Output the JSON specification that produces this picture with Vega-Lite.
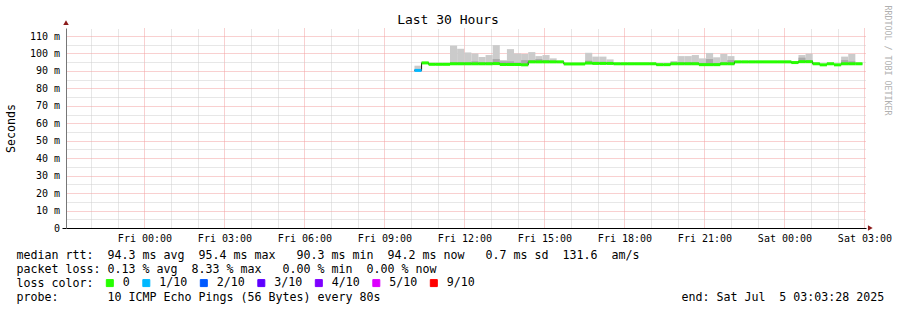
{
  "$schema": "https://vega.github.io/schema/vega-lite/v6.json",
  "width": 800,
  "height": 200,
  "autosize": {"type": "none"},
  "padding": {"left": 66, "top": 28, "right": 31, "bottom": 82},
  "background": "#ffffff",
  "config": {"view": {"stroke": null}, "font": "DejaVu Sans Mono"},
  "title": {"text": "Last 30 Hours", "font": "DejaVu Sans Mono", "fontSize": 13, "fontWeight": "normal", "color": "#000000", "anchor": "middle", "frame": "group", "dx": -18, "dy": 36, "offset": 4, "baseline": "alphabetic"},
  "data": {"values": [
    {"t0": 10.125, "t1": 10.392, "med": 90.3, "lo": 89.8, "hi": 93.0, "ilo": 90.0, "ihi": 90.8, "loss": "1/10"},
    {"t0": 10.392, "t1": 10.658, "med": 94.6, "lo": 94.0, "hi": 95.2, "ilo": 94.3, "ihi": 94.9, "loss": "0"},
    {"t0": 10.658, "t1": 10.925, "med": 93.8, "lo": 93.2, "hi": 94.4, "ilo": 93.5, "ihi": 94.1, "loss": "0"},
    {"t0": 10.925, "t1": 11.192, "med": 93.8, "lo": 93.2, "hi": 94.4, "ilo": 93.5, "ihi": 94.1, "loss": "0"},
    {"t0": 11.192, "t1": 11.458, "med": 93.8, "lo": 93.2, "hi": 94.4, "ilo": 93.5, "ihi": 94.1, "loss": "0"},
    {"t0": 11.458, "t1": 11.725, "med": 94.1, "lo": 93.5, "hi": 104.5, "ilo": 93.8, "ihi": 95.1, "loss": "0"},
    {"t0": 11.725, "t1": 11.992, "med": 94.1, "lo": 93.5, "hi": 102.7, "ilo": 93.8, "ihi": 95.1, "loss": "0"},
    {"t0": 11.992, "t1": 12.258, "med": 94.1, "lo": 93.5, "hi": 100.6, "ilo": 93.8, "ihi": 95.1, "loss": "0"},
    {"t0": 12.258, "t1": 12.525, "med": 94.1, "lo": 93.5, "hi": 100.0, "ilo": 93.8, "ihi": 95.5, "loss": "0"},
    {"t0": 12.525, "t1": 12.792, "med": 94.1, "lo": 93.5, "hi": 98.0, "ilo": 93.8, "ihi": 95.1, "loss": "0"},
    {"t0": 12.792, "t1": 13.058, "med": 94.1, "lo": 93.5, "hi": 99.1, "ilo": 93.8, "ihi": 95.1, "loss": "0"},
    {"t0": 13.058, "t1": 13.325, "med": 94.2, "lo": 93.6, "hi": 104.8, "ilo": 93.9, "ihi": 96.8, "loss": "0"},
    {"t0": 13.325, "t1": 13.592, "med": 93.7, "lo": 93.1, "hi": 96.2, "ilo": 93.4, "ihi": 95.5, "loss": "0"},
    {"t0": 13.592, "t1": 13.858, "med": 93.7, "lo": 93.1, "hi": 102.5, "ilo": 93.4, "ihi": 95.5, "loss": "0"},
    {"t0": 13.858, "t1": 14.125, "med": 93.7, "lo": 93.1, "hi": 100.0, "ilo": 93.4, "ihi": 94.8, "loss": "0"},
    {"t0": 14.125, "t1": 14.392, "med": 93.5, "lo": 92.9, "hi": 99.7, "ilo": 93.2, "ihi": 96.2, "loss": "0"},
    {"t0": 14.392, "t1": 14.658, "med": 95.2, "lo": 94.6, "hi": 100.8, "ilo": 94.9, "ihi": 96.2, "loss": "0"},
    {"t0": 14.658, "t1": 14.925, "med": 95.2, "lo": 94.6, "hi": 98.5, "ilo": 94.9, "ihi": 96.8, "loss": "0"},
    {"t0": 14.925, "t1": 15.192, "med": 95.2, "lo": 94.6, "hi": 99.1, "ilo": 94.9, "ihi": 96.2, "loss": "0"},
    {"t0": 15.192, "t1": 15.458, "med": 95.2, "lo": 94.6, "hi": 97.2, "ilo": 94.9, "ihi": 95.8, "loss": "0"},
    {"t0": 15.458, "t1": 15.725, "med": 95.2, "lo": 94.6, "hi": 95.8, "ilo": 94.9, "ihi": 95.5, "loss": "0"},
    {"t0": 15.725, "t1": 15.992, "med": 94.0, "lo": 93.4, "hi": 94.6, "ilo": 93.7, "ihi": 94.3, "loss": "0"},
    {"t0": 15.992, "t1": 16.258, "med": 94.0, "lo": 93.4, "hi": 94.6, "ilo": 93.7, "ihi": 94.3, "loss": "0"},
    {"t0": 16.258, "t1": 16.525, "med": 94.0, "lo": 93.4, "hi": 94.6, "ilo": 93.7, "ihi": 94.3, "loss": "0"},
    {"t0": 16.525, "t1": 16.792, "med": 94.5, "lo": 93.9, "hi": 100.4, "ilo": 94.2, "ihi": 95.9, "loss": "0"},
    {"t0": 16.792, "t1": 17.058, "med": 94.3, "lo": 93.7, "hi": 98.2, "ilo": 94.0, "ihi": 95.2, "loss": "0"},
    {"t0": 17.058, "t1": 17.325, "med": 94.3, "lo": 93.7, "hi": 98.2, "ilo": 94.0, "ihi": 95.2, "loss": "0"},
    {"t0": 17.325, "t1": 17.592, "med": 94.3, "lo": 93.7, "hi": 96.6, "ilo": 94.0, "ihi": 95.0, "loss": "0"},
    {"t0": 17.592, "t1": 17.858, "med": 94.1, "lo": 93.5, "hi": 94.7, "ilo": 93.8, "ihi": 94.4, "loss": "0"},
    {"t0": 17.858, "t1": 18.125, "med": 94.1, "lo": 93.5, "hi": 94.7, "ilo": 93.8, "ihi": 94.4, "loss": "0"},
    {"t0": 18.125, "t1": 18.392, "med": 94.1, "lo": 93.5, "hi": 94.7, "ilo": 93.8, "ihi": 94.4, "loss": "0"},
    {"t0": 18.392, "t1": 18.658, "med": 94.1, "lo": 93.5, "hi": 94.7, "ilo": 93.8, "ihi": 94.4, "loss": "0"},
    {"t0": 18.658, "t1": 18.925, "med": 94.1, "lo": 93.5, "hi": 94.7, "ilo": 93.8, "ihi": 94.4, "loss": "0"},
    {"t0": 18.925, "t1": 19.192, "med": 94.1, "lo": 93.5, "hi": 94.7, "ilo": 93.8, "ihi": 94.4, "loss": "0"},
    {"t0": 19.192, "t1": 19.458, "med": 93.6, "lo": 93.0, "hi": 94.2, "ilo": 93.3, "ihi": 93.9, "loss": "0"},
    {"t0": 19.458, "t1": 19.725, "med": 93.6, "lo": 93.0, "hi": 94.2, "ilo": 93.3, "ihi": 93.9, "loss": "0"},
    {"t0": 19.725, "t1": 19.992, "med": 94.1, "lo": 93.5, "hi": 95.7, "ilo": 93.8, "ihi": 94.8, "loss": "0"},
    {"t0": 19.992, "t1": 20.258, "med": 94.1, "lo": 93.5, "hi": 98.5, "ilo": 93.8, "ihi": 95.0, "loss": "0"},
    {"t0": 20.258, "t1": 20.525, "med": 94.1, "lo": 93.5, "hi": 98.5, "ilo": 93.8, "ihi": 95.0, "loss": "0"},
    {"t0": 20.525, "t1": 20.792, "med": 94.1, "lo": 93.5, "hi": 99.1, "ilo": 93.8, "ihi": 95.0, "loss": "0"},
    {"t0": 20.792, "t1": 21.058, "med": 93.6, "lo": 93.0, "hi": 97.2, "ilo": 93.3, "ihi": 94.6, "loss": "0"},
    {"t0": 21.058, "t1": 21.325, "med": 93.6, "lo": 93.0, "hi": 100.3, "ilo": 93.3, "ihi": 96.8, "loss": "0"},
    {"t0": 21.325, "t1": 21.592, "med": 93.6, "lo": 93.0, "hi": 97.8, "ilo": 93.3, "ihi": 94.6, "loss": "0"},
    {"t0": 21.592, "t1": 21.858, "med": 94.1, "lo": 93.5, "hi": 99.7, "ilo": 93.8, "ihi": 95.0, "loss": "0"},
    {"t0": 21.858, "t1": 22.125, "med": 94.1, "lo": 93.5, "hi": 98.5, "ilo": 93.8, "ihi": 96.2, "loss": "0"},
    {"t0": 22.125, "t1": 22.392, "med": 95.2, "lo": 94.6, "hi": 95.8, "ilo": 94.9, "ihi": 95.5, "loss": "0"},
    {"t0": 22.392, "t1": 22.658, "med": 95.2, "lo": 94.6, "hi": 95.8, "ilo": 94.9, "ihi": 95.5, "loss": "0"},
    {"t0": 22.658, "t1": 22.925, "med": 95.2, "lo": 94.6, "hi": 95.8, "ilo": 94.9, "ihi": 95.5, "loss": "0"},
    {"t0": 22.925, "t1": 23.192, "med": 95.2, "lo": 94.6, "hi": 95.8, "ilo": 94.9, "ihi": 95.5, "loss": "0"},
    {"t0": 23.192, "t1": 23.458, "med": 95.2, "lo": 94.6, "hi": 95.8, "ilo": 94.9, "ihi": 95.5, "loss": "0"},
    {"t0": 23.458, "t1": 23.725, "med": 95.2, "lo": 94.6, "hi": 95.8, "ilo": 94.9, "ihi": 95.5, "loss": "0"},
    {"t0": 23.725, "t1": 23.992, "med": 95.2, "lo": 94.6, "hi": 95.8, "ilo": 94.9, "ihi": 95.5, "loss": "0"},
    {"t0": 23.992, "t1": 24.258, "med": 95.2, "lo": 94.6, "hi": 95.8, "ilo": 94.9, "ihi": 95.5, "loss": "0"},
    {"t0": 24.258, "t1": 24.525, "med": 94.8, "lo": 94.2, "hi": 95.4, "ilo": 94.5, "ihi": 95.1, "loss": "0"},
    {"t0": 24.525, "t1": 24.792, "med": 95.3, "lo": 94.7, "hi": 99.1, "ilo": 95.0, "ihi": 97.6, "loss": "0"},
    {"t0": 24.792, "t1": 25.058, "med": 95.3, "lo": 94.7, "hi": 99.9, "ilo": 95.0, "ihi": 96.2, "loss": "0"},
    {"t0": 25.058, "t1": 25.325, "med": 94.1, "lo": 93.5, "hi": 94.7, "ilo": 93.8, "ihi": 94.4, "loss": "0"},
    {"t0": 25.325, "t1": 25.592, "med": 93.5, "lo": 92.9, "hi": 94.1, "ilo": 93.2, "ihi": 93.8, "loss": "0"},
    {"t0": 25.592, "t1": 25.858, "med": 94.1, "lo": 93.5, "hi": 94.7, "ilo": 93.8, "ihi": 94.4, "loss": "0"},
    {"t0": 25.858, "t1": 26.125, "med": 93.5, "lo": 92.9, "hi": 94.1, "ilo": 93.2, "ihi": 93.8, "loss": "0"},
    {"t0": 26.125, "t1": 26.392, "med": 94.1, "lo": 93.5, "hi": 98.2, "ilo": 93.8, "ihi": 96.2, "loss": "0"},
    {"t0": 26.392, "t1": 26.658, "med": 94.1, "lo": 93.5, "hi": 99.7, "ilo": 93.8, "ihi": 95.5, "loss": "0"},
    {"t0": 26.658, "t1": 26.925, "med": 94.1, "lo": 93.5, "hi": 94.7, "ilo": 93.8, "ihi": 94.4, "loss": "0"}
  ]},
  "resolve": {"axis": {"x": "independent", "y": "independent"}},
  "layer": [
    {
      "mark": {"type": "rect", "color": "#cbcbcb"},
      "encoding": {
        "x": {"field": "t0", "type": "quantitative",
          "scale": {"domain": [-2.9422, 27.0578], "nice": false, "zero": false},
          "axis": {
            "orient": "bottom",
            "values": [0, 3, 6, 9, 12, 15, 18, 21, 24, 27],
            "labelExpr": "(datum.value < 24 ? 'Fri ' : 'Sat ') + ((datum.value % 24) < 10 ? '0' : '') + (datum.value % 24) + ':00'",
            "labelFont": "DejaVu Sans Mono", "labelFontSize": 10, "labelColor": "#000000",
            "labelBaseline": "alphabetic", "labelPadding": 13, "labelOverlap": false, "labelFlush": false,
            "ticks": false, "tickSize": 0,
            "domainColor": "#000000", "domainWidth": 1,
            "grid": true, "gridDash": [1, 1], "gridWidth": 1, "gridColor": "#f2a0a0",
            "title": [
              "median rtt:\u00a0\u00a094.3 ms avg\u00a0\u00a095.4 ms max\u00a0\u00a0\u00a090.3 ms min\u00a0\u00a094.2 ms now\u00a0\u00a0\u00a00.7 ms sd\u00a0\u00a0131.6\u00a0\u00a0am/s",
              "packet loss: 0.13 % avg\u00a0\u00a08.33 % max\u00a0\u00a0\u00a00.00 % min\u00a0\u00a00.00 % now",
              "loss color:",
              "probe:\u00a0\u00a0\u00a0\u00a0\u00a0\u00a0\u00a010 ICMP Echo Pings (56 Bytes) every 80s\u00a0\u00a0\u00a0\u00a0\u00a0\u00a0\u00a0\u00a0\u00a0\u00a0\u00a0\u00a0\u00a0\u00a0\u00a0\u00a0\u00a0\u00a0\u00a0\u00a0\u00a0\u00a0\u00a0\u00a0\u00a0\u00a0\u00a0\u00a0\u00a0\u00a0\u00a0\u00a0\u00a0\u00a0\u00a0\u00a0\u00a0\u00a0\u00a0\u00a0\u00a0\u00a0\u00a0end: Sat Jul\u00a0\u00a05 03:03:28 2025"
            ],
            "titleFont": "DejaVu Sans Mono", "titleFontSize": 11.63, "titleFontWeight": "normal", "titleColor": "#000000",
            "titleAlign": "left", "titleAnchor": "start", "titleBaseline": "alphabetic", "titleAngle": 0,
            "titleX": -50, "titleY": 30.6, "titleLineHeight": 14, "titleLimit": 2000
          }
        },
        "x2": {"field": "t1"},
        "y": {"field": "lo", "type": "quantitative",
          "scale": {"domain": [0, 114.6], "nice": false, "zero": true},
          "axis": {
            "values": [0, 5, 10, 15, 20, 25, 30, 35, 40, 45, 50, 55, 60, 65, 70, 75, 80, 85, 90, 95, 100, 105, 110],
            "labelExpr": "datum.value % 10 === 0 ? (datum.value === 0 ? '0\u00a0\u00a0' : datum.value + ' m') : ''",
            "labelFont": "DejaVu Sans Mono", "labelFontSize": 10, "labelColor": "#000000",
            "labelPadding": 2.5, "labelOverlap": false, "labelFlush": false,
            "ticks": true, "tickSize": 4, "tickWidth": 1,
            "tickColor": {"condition": {"test": "datum.value === 0", "value": "#000000"}, "value": "transparent"},
            "domainColor": "#777777", "domainWidth": 1,
            "grid": true, "gridDash": [1, 1], "gridWidth": 1,
            "gridColor": {"condition": {"test": "datum.value % 10 === 0", "value": "#f2a0a0"}, "value": "#cfcfcf"},
            "title": "Seconds", "titleFont": "DejaVu Sans Mono", "titleFontSize": 11.63, "titleFontWeight": "normal", "titleColor": "#000000",
            "titleX": -55, "titleY": 100, "titleAngle": 270, "titleAlign": "center", "titleBaseline": "middle"
          }
        },
        "y2": {"field": "hi"}
      }
    },
    {
      "mark": {"type": "rect", "color": "#aaaaaa"},
      "encoding": {
        "x": {"field": "t0", "type": "quantitative", "scale": {"domain": [-2.9422, 27.0578], "nice": false, "zero": false},
          "axis": {"orient": "top", "values": [-2, -1, 1, 2, 4, 5, 7, 8, 10, 11, 13, 14, 16, 17, 19, 20, 22, 23, 25, 26],
            "labels": false, "ticks": false, "domain": false, "title": null,
            "grid": true, "gridDash": [1, 1], "gridWidth": 1, "gridColor": "#cfcfcf"}},
        "x2": {"field": "t1"},
        "y": {"field": "ilo", "type": "quantitative", "scale": {"domain": [0, 114.6], "nice": false, "zero": true}, "axis": null},
        "y2": {"field": "ihi"}
      }
    },
    {
      "mark": {"type": "line", "interpolate": "step-after", "strokeWidth": 1, "color": "#1a1a1a"},
      "encoding": {
        "x": {"field": "t0", "type": "quantitative", "scale": {"domain": [-2.9422, 27.0578], "nice": false, "zero": false}, "axis": null},
        "y": {"field": "med", "type": "quantitative", "scale": {"domain": [0, 114.6], "nice": false, "zero": true},
          "axis": {"orient": "right", "labels": false, "ticks": false, "domain": false, "grid": false,
            "title": "RRDTOOL / TOBI OETIKER", "titleAngle": 90, "titleFont": "DejaVu Sans Mono", "titleFontSize": 8.3,
            "titleFontWeight": "normal", "titleColor": "#b0b0b0", "titleX": 20, "titleY": 32, "titleAlign": "center", "titleBaseline": "middle"}
        }
      }
    },
    {
      "mark": {"type": "rule", "strokeWidth": 3, "strokeCap": "butt"},
      "encoding": {
        "x": {"field": "t0", "type": "quantitative", "scale": {"domain": [-2.9422, 27.0578], "nice": false, "zero": false}, "axis": null},
        "x2": {"field": "t1"},
        "y": {"field": "med", "type": "quantitative", "scale": {"domain": [0, 114.6], "nice": false, "zero": true}, "axis": null},
        "color": {"field": "loss", "type": "nominal",
          "scale": {"domain": ["0", "1/10", "2/10", "3/10", "4/10", "5/10", "9/10"],
                    "range": ["#26ff00", "#00b8ff", "#0059ff", "#5e00ff", "#7e00ff", "#dd00ff", "#ff0000"]},
          "legend": {"title": null, "orient": "none", "legendX": 38, "legendY": 249, "direction": "horizontal",
            "symbolType": "square", "symbolSize": 49, "symbolStrokeWidth": 1, "symbolOpacity": 1,
            "labelFont": "DejaVu Sans Mono", "labelFontSize": 11.63, "labelColor": "#000000", "labelOffset": 7,
            "columnPadding": 10.5, "padding": 0, "offset": 0, "labelLimit": 500,
            "encode": {"symbols": {"update": {"fill": {"scale": "color", "field": "value"}, "stroke": {"value": "#333333"}, "strokeWidth": {"value": 1}, "opacity": {"value": 1}}}}
          }
        }
      }
    },
    {
      "data": {"values": [{}]},
      "mark": {"type": "point", "shape": "triangle-up", "filled": true, "size": 30, "color": "#8b1a1a", "opacity": 1},
      "encoding": {
        "x": {"datum": -2.9422, "type": "quantitative", "scale": {"domain": [-2.9422, 27.0578], "nice": false, "zero": false}, "axis": null},
        "y": {"datum": 117.7, "type": "quantitative", "scale": {"domain": [0, 114.6], "nice": false, "zero": true}, "axis": null}
      }
    },
    {
      "data": {"values": [{}]},
      "mark": {"type": "point", "shape": "triangle-right", "filled": true, "size": 30, "color": "#8b1a1a", "opacity": 1},
      "encoding": {
        "x": {"datum": 27.22, "type": "quantitative", "scale": {"domain": [-2.9422, 27.0578], "nice": false, "zero": false}, "axis": null},
        "y": {"datum": 0, "type": "quantitative", "scale": {"domain": [0, 114.6], "nice": false, "zero": true}, "axis": null}
      }
    }
  ]
}
